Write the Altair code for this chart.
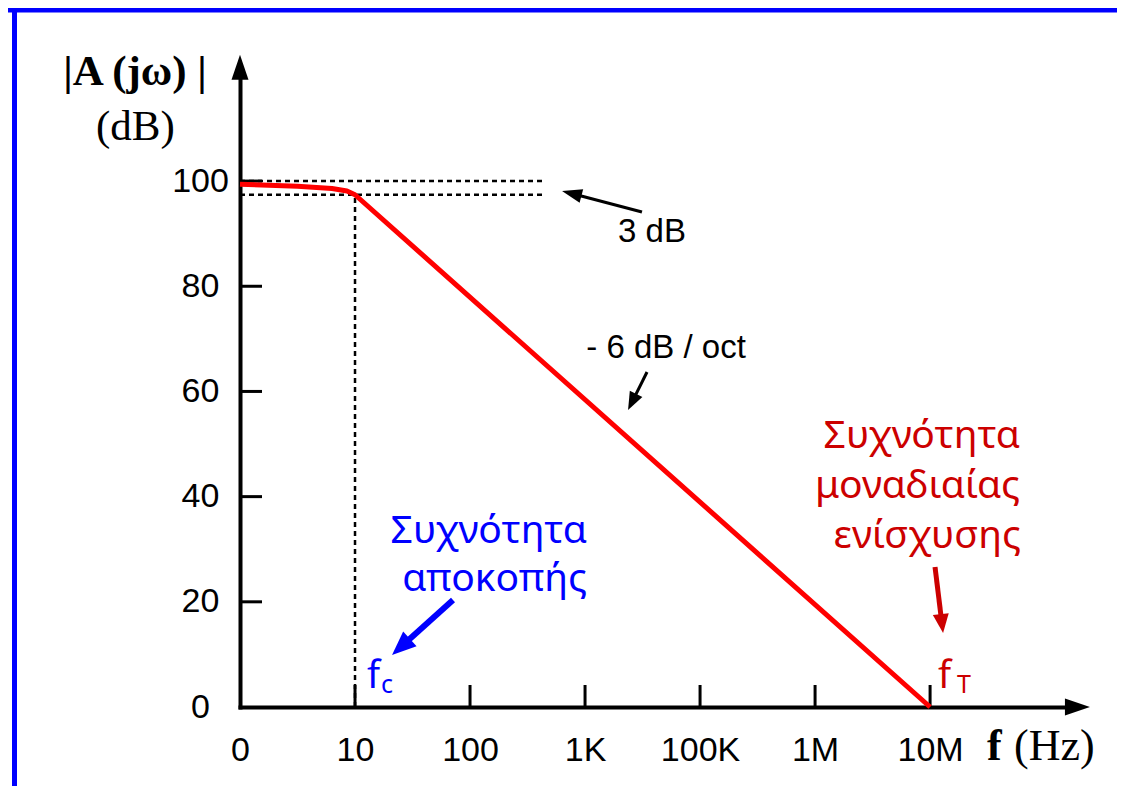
import math
import altair as alt
import pandas as pd

# ---------------- data ----------------
freq_labels = ["0", "10", "100", "1K", "100K", "1M", "10M"]
freq_pos = [0, 1, 2, 3, 4, 5, 6]
gain_ticks = [0, 20, 40, 60, 80, 100]
curve_x = [0.0, 0.5, 0.8, 0.93, 1.0, 6.0]
curve_y = [99.4, 99.0, 98.6, 98.1, 97.4, 0.0]
gain_max = 100.0
gain_3db = 97.4
f_c = 1.0
f_T = 6.0
dash_end = 2.65

# ---------------- layout ----------------
WIDTH, HEIGHT = 835, 639
XMAX, YMAX = 7.26, 121.5
PAD = {"left": 232, "top": 60, "right": 42, "bottom": 79}
SX, SY = WIDTH / XMAX, HEIGHT / YMAX

BLUE = "#0000ff"
DARKRED = "#cc0000"
SANS = "Liberation Sans"
GREEK = "Noto Sans"
SERIF = "Liberation Serif"

xscale = alt.Scale(domain=[0, XMAX], nice=False, zero=False)
yscale = alt.Scale(domain=[0, YMAX], nice=False, zero=False)
label_expr = "[" + ",".join("'%s'" % l for l in freq_labels) + "][datum.value]"

xaxis = alt.Axis(values=freq_pos, labelExpr=label_expr, ticks=False, tickSize=0,
                 grid=False, domainColor="black", domainWidth=4, domainCap="square",
                 labelFont=SANS, labelFontSize=34, labelColor="black",
                 labelPadding=53, labelBaseline="alphabetic", labelFlush=False,
                 labelOverlap=False, title=None)
yaxis = alt.Axis(values=gain_ticks, ticks=False, tickSize=0, grid=False,
                 domainColor="black", domainWidth=4, domainCap="square",
                 labelFont=SANS, labelFontSize=34, labelColor="black",
                 labelPadding=40, labelAlign="center", labelBaseline="middle",
                 labelFlush=False, labelOverlap=False, title=None)


def X(field="x"):
    return alt.X(f"{field}:Q", scale=xscale, axis=xaxis)


def Y(field="y"):
    return alt.Y(f"{field}:Q", scale=yscale, axis=yaxis)


one = pd.DataFrame({"k": [0]})
layers = []

# blue frame (decoration)
layers.append(alt.Chart(one).mark_rule(color=BLUE, strokeWidth=5).encode(
    x=alt.value(-PAD["left"]), x2=alt.value(WIDTH + PAD["right"]), y=alt.value(-58)))
layers.append(alt.Chart(one).mark_rule(color=BLUE, strokeWidth=5).encode(
    x=alt.value(-225.5), y=alt.value(-PAD["top"]), y2=alt.value(HEIGHT + PAD["bottom"])))

# dashed guide lines
dash = pd.DataFrame({"x": [0, 0, f_c], "x2": [dash_end, dash_end, f_c],
                     "y": [gain_max, gain_3db, 0], "y2": [gain_max, gain_3db, gain_3db]})
layers.append(alt.Chart(dash).mark_rule(color="black", strokeWidth=2.5, strokeDash=[5, 4]).encode(
    x=X(), x2="x2", y=Y(), y2="y2"))

# inward ticks
layers.append(alt.Chart(pd.DataFrame({"x": freq_pos[1:]})).mark_rule(color="black", strokeWidth=3).encode(
    x=X(), y=alt.value(HEIGHT - 22), y2=alt.value(HEIGHT)))
layers.append(alt.Chart(pd.DataFrame({"y": gain_ticks[1:]})).mark_rule(color="black", strokeWidth=3).encode(
    y=Y(), x=alt.value(0), x2=alt.value(22)))

# response curve
layers.append(alt.Chart(pd.DataFrame({"x": curve_x, "y": curve_y})).mark_line(
    color="#ff0000", strokeWidth=5, strokeJoin="round").encode(x=X(), y=Y()))


def head(tip, angle, color, head_len, head_w):
    a = head_w / head_len
    path = "M0,0L%.3f,2L%.3f,2Z" % (-a, a)
    return alt.Chart(pd.DataFrame({"x": [tip[0]], "y": [tip[1]]})).mark_point(
        shape=path, filled=True, color=color, opacity=1, size=head_len ** 2,
        angle=angle, strokeWidth=0).encode(x=X(), y=Y())


def arrow(tail, tip, color, width, head_len, head_w):
    dxp = (tip[0] - tail[0]) * SX
    dyp = -(tip[1] - tail[1]) * SY
    length = math.hypot(dxp, dyp)
    f = head_len * 0.6 / length
    end = (tip[0] - (tip[0] - tail[0]) * f, tip[1] - (tip[1] - tail[1]) * f)
    ang = math.degrees(math.atan2(dxp, -dyp)) % 360
    shaft = alt.Chart(pd.DataFrame({"x": [tail[0]], "y": [tail[1]],
                                    "x2": [end[0]], "y2": [end[1]]})).mark_rule(
        color=color, strokeWidth=width).encode(x=X(), y=Y(), x2="x2", y2="y2")
    return [shaft, head(tip, ang, color, head_len, head_w)]


# axis arrow heads
layers.append(head((7.39, 0), 90, "black", 25, 17))
layers.append(head((0, 124), 0, "black", 25, 17))

# annotation arrows
layers += arrow((3.495, 94.12), (2.800, 98.11), "black", 3, 20, 14)
layers += arrow((3.539, 63.70), (3.374, 56.47), "black", 3, 18, 14)
layers += arrow((1.852, 20.34), (1.322, 9.89), BLUE, 6, 24, 20)
layers += arrow((6.043, 26.62), (6.113, 14.07), DARKRED, 5, 19, 16)


def label(rows, color, size, font, align="left", weight="normal"):
    df = pd.DataFrame(rows, columns=["x", "y", "t"])
    return alt.Chart(df).mark_text(color=color, fontSize=size, font=font, align=align,
                                   baseline="alphabetic", fontWeight=weight).encode(
        x=X(), y=Y(), text="t:N")


layers.append(label([(-0.913, 118.27, "|A (jω) |")], "black", 43, SERIF, "center", "bold"))
layers.append(label([(-0.909, 107.81, "(dB)")], "black", 43, SERIF, "center"))
layers.append(label([(6.495, -10.08, "f")], "black", 44, SERIF, "left", "bold"))
layers.append(label([(6.730, -10.08, "(Hz)")], "black", 44, SERIF, "left"))
layers.append(label([(3.582, 88.41, "3 dB"), (3.704, 66.36, "- 6 dB / oct")], "black", 33, SANS, "center"))
layers.append(label([(3.017, 31.18, "Συχνότητα"), (3.017, 22.06, "αποκοπής")], BLUE, 39, GREEK, "right"))
layers.append(label([(6.782, 49.25, "Συχνότητα"), (6.782, 39.74, "μοναδιαίας"),
                     (6.79, 30.23, "ενίσχυσης")], DARKRED, 39, GREEK, "right"))
layers.append(label([(1.104, 3.61, "f")], BLUE, 38, GREEK))
layers.append(label([(1.226, 2.66, "c")], BLUE, 25, GREEK))
layers.append(label([(6.069, 3.61, "f")], DARKRED, 38, GREEK))
layers.append(label([(6.234, 2.66, "T")], DARKRED, 25, GREEK))

chart = alt.layer(*layers).properties(
    width=WIDTH, height=HEIGHT, padding=PAD,
    autosize=alt.AutoSizeParams(type="none"), background="white"
).configure_view(strokeWidth=0)

chart.save("out.html", embed_options={"renderer": "svg", "actions": False})
